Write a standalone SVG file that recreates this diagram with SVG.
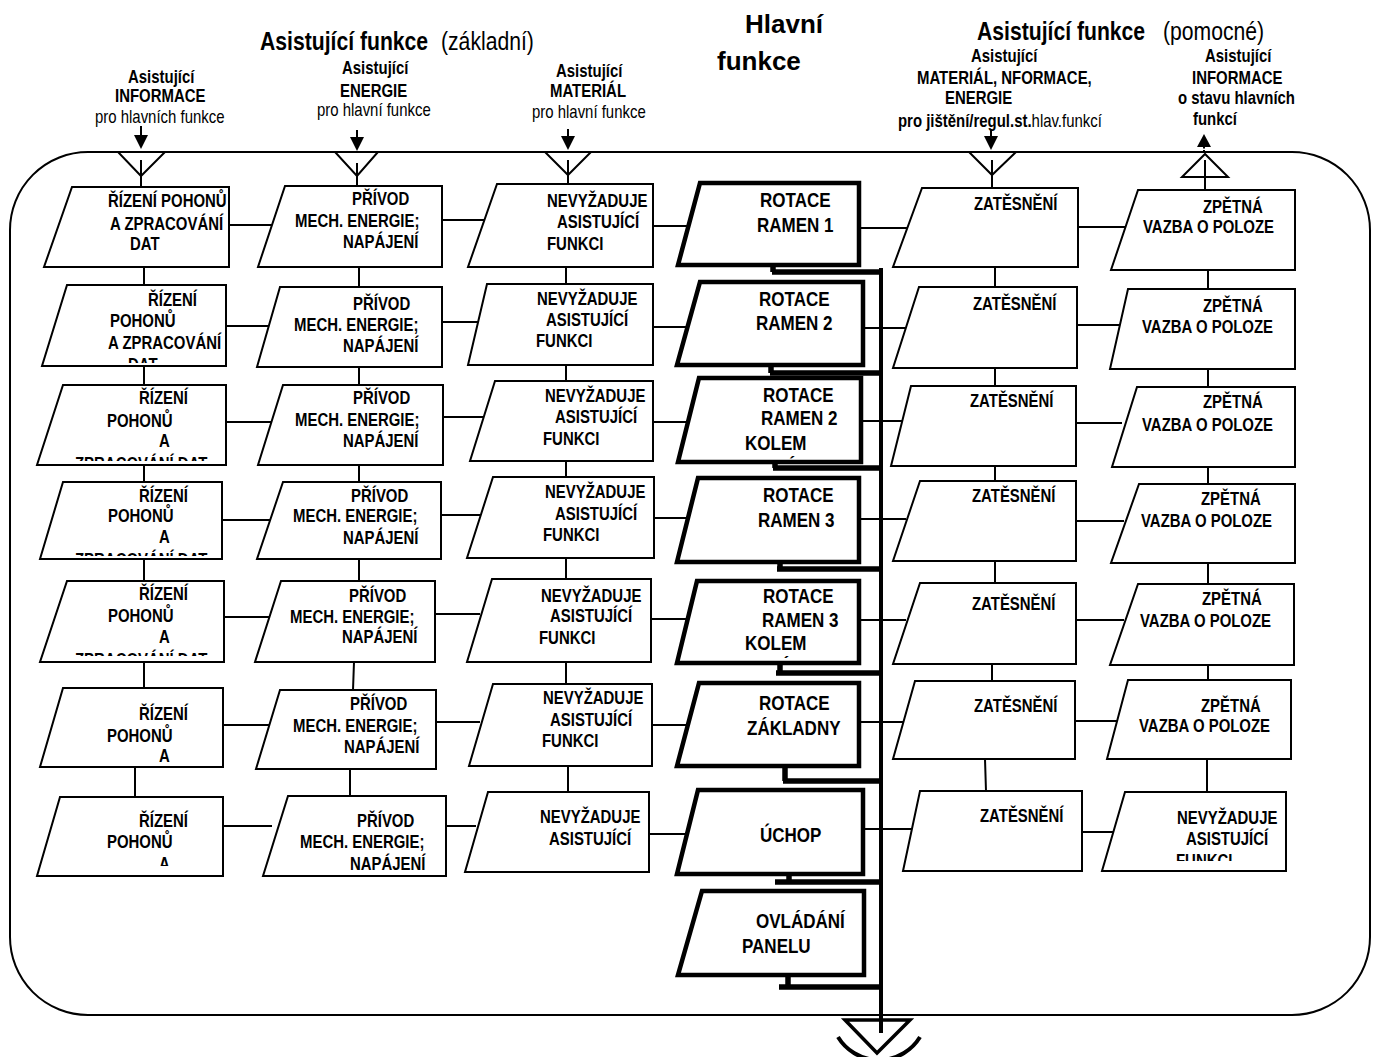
<svg xmlns="http://www.w3.org/2000/svg" width="1378" height="1057" viewBox="0 0 1378 1057">
<style>
text{font-family:"Liberation Sans",Arial,sans-serif;font-weight:bold;fill:#000}
.t{font-size:18px}
.m{font-size:20.5px}
.h{font-size:25.5px}
.hv{font-size:26px}
.r{font-weight:normal}
.a{fill:#fff;stroke:#000;stroke-width:2}
.mf{fill:#fff;stroke:#000;stroke-width:4.5}
.c{fill:none;stroke:#000;stroke-width:2}
.bus{fill:none;stroke:#000;stroke-width:4}
.stub{fill:none;stroke:#000;stroke-width:5.5}
</style>
<defs>
<clipPath id="k1"><rect x="30" y="280" width="220" height="83"/></clipPath>
<clipPath id="k2"><rect x="30" y="380" width="220" height="81"/></clipPath>
<clipPath id="k3"><rect x="30" y="478" width="220" height="78"/></clipPath>
<clipPath id="k4"><rect x="30" y="578" width="220" height="78"/></clipPath>
<clipPath id="k5"><rect x="30" y="790" width="220" height="76"/></clipPath>
<clipPath id="k6"><rect x="680" y="375" width="200" height="86"/></clipPath>
<clipPath id="k7"><rect x="680" y="578" width="200" height="80"/></clipPath>
<clipPath id="k8"><rect x="1100" y="788" width="200" height="73"/></clipPath>
</defs>

<rect x="10" y="152" width="1360" height="863" rx="78" ry="78" fill="none" stroke="#000" stroke-width="2"/>

<g id="headers">
<text class="h" transform="translate(260,50) scale(.83,1)">Asistující funkce</text>
<text class="h r" transform="translate(441,50) scale(.83,1)">(základní)</text>
<text class="hv" x="745" y="33">Hlavní</text>
<text class="hv" x="717" y="70">funkce</text>
<text class="h" transform="translate(977,40) scale(.83,1)">Asistující funkce</text>
<text class="h r" transform="translate(1163,40) scale(.83,1)">(pomocné)</text>
</g>

<g id="input-info">
<text class="t" transform="translate(128,83) scale(.83,1)">Asistující</text>
<text class="t" transform="translate(115,102) scale(.83,1)">INFORMACE</text>
<text class="t r" transform="translate(95,123) scale(.83,1)">pro hlavních funkce</text>
<path class="c" d="M141,126V136"/>
<polygon points="134,135 148,135 141,149" fill="#000"/>
<polygon points="118,152 165,152 141,176" fill="none" stroke="#000" stroke-width="2"/>
</g>
<g id="input-energy">
<text class="t" transform="translate(342,74) scale(.83,1)">Asistující</text>
<text class="t" transform="translate(340,97) scale(.83,1)">ENERGIE</text>
<text class="t r" transform="translate(317,116) scale(.83,1)">pro hlavní funkce</text>
<path class="c" d="M357,130V138"/>
<polygon points="350,137 364,137 357,151" fill="#000"/>
<polygon points="335,152 378,152 357,176" fill="none" stroke="#000" stroke-width="2"/>
</g>
<g id="input-material">
<text class="t" transform="translate(556,77) scale(.83,1)">Asistující</text>
<text class="t" transform="translate(550,97) scale(.83,1)">MATERIÁL</text>
<text class="t r" transform="translate(532,118) scale(.83,1)">pro hlavní funkce</text>
<path class="c" d="M568,129V137"/>
<polygon points="561,136 575,136 568,150" fill="#000"/>
<polygon points="545,152 591,152 568,175" fill="none" stroke="#000" stroke-width="2"/>
</g>
<g id="input-aux">
<text class="t" transform="translate(971,62) scale(.83,1)">Asistující</text>
<text class="t" transform="translate(917,84) scale(.83,1)">MATERIÁL, NFORMACE,</text>
<text class="t" transform="translate(945,104) scale(.83,1)">ENERGIE</text>
<text class="t" transform="translate(898,127) scale(.83,1)">pro jištění/regul.st.<tspan class="r">hlav.funkcí</tspan></text>
<path class="c" d="M991,129V137"/>
<polygon points="984,136 998,136 991,150" fill="#000"/>
<polygon points="969,152 1016,152 992,175" fill="none" stroke="#000" stroke-width="2"/>
</g>
<g id="output-info">
<text class="t" transform="translate(1205,62) scale(.83,1)">Asistující</text>
<text class="t" transform="translate(1192,84) scale(.83,1)">INFORMACE</text>
<text class="t" transform="translate(1178,104) scale(.83,1)">o stavu hlavních</text>
<text class="t" transform="translate(1193,125) scale(.83,1)">funkcí</text>
<polygon points="1197,147 1211,147 1204,134" fill="#000"/>
<path class="c" d="M1204,147V151" stroke-dasharray="1.5 1.5"/>
<polygon points="1182,177 1228,177 1205,154" fill="none" stroke="#000" stroke-width="2"/>
</g>

<g id="connectors">
<path class="c" d="M141,160V187 M357,163V186 M568,160V184 M992,160V188 M1205,160V190"/>
<path class="c" d="M144,267V285 M144,366V385 M144,465V482 M144,559V581 M144,662V688 M135,767V797
M359,267V287 M359,367V385 M359,465V482 M359,559V581 M354,662L353,690 M350,769V796
M566,267V284 M566,365V381 M566,461V477 M566,558V579 M566,662V684 M568,766V792
M995,267V287 M995,368V386 M995,466V481 M995,561V583 M992,664V681 M985,759L986,791
M1208,270V289 M1208,369V387 M1208,467V484 M1208,563V584 M1208,665V680 M1207,759V792"/>
<path class="c" d="M229,225H274 M442,220H486 M653,226H692 M859,228H908 M1078,227H1126
M226,326H272 M442,322H483 M653,327H692 M863,328H908 M1077,325H1120
M226,422H273 M438,417H484 M653,422H691 M861,421H906 M1077,423H1122
M222,520H272 M440,515H482 M654,518H690 M859,519H906 M1076,521H1124
M224,617H270 M435,614H480 M651,619H690 M859,620H906 M1076,620H1124
M223,725H272 M436,722H480 M652,725H692 M859,722H906 M1075,721H1124
M223,826H272 M446,826H476 M649,834H690 M863,829H912 M1082,832H1114"/>
<path class="bus" d="M881,268V1033"/>
<path class="stub" d="M773,263V272 M771,363V373 M775,460V468 M780,560V569 M780,661V673 M785,764V781 M789,868V882 M788,973V987"/>
<path class="stub" d="M772,272H883 M770,373H883 M773,468H883 M777,569H883 M776,673H883 M783,781H883 M775,882H883 M779,987H881"/>
</g>

<g id="output-main">
<polygon points="845,1020 910,1020 877,1053" fill="none" stroke="#000" stroke-width="3.5"/>
<path d="M838,1037 A48,48 0 0 0 920,1037" fill="none" stroke="#000" stroke-width="4"/>
</g>

<!-- column 1 -->
<g id="c1r1"><polygon class="a" points="72,187 229,187 229,267 44,267"/>
<text class="t" transform="translate(108,207) scale(.83,1)">ŘÍZENÍ POHONŮ</text>
<text class="t" transform="translate(110,230) scale(.83,1)">A ZPRACOVÁNÍ</text>
<text class="t" transform="translate(130,250) scale(.83,1)">DAT</text></g>
<g id="c1r2"><polygon class="a" points="67,285 226,285 226,366 42,366"/>
<text class="t" transform="translate(148,306) scale(.83,1)">ŘÍZENÍ</text>
<text class="t" transform="translate(110,327) scale(.83,1)">POHONŮ</text>
<text class="t" transform="translate(108,349) scale(.83,1)">A ZPRACOVÁNÍ</text>
<g clip-path="url(#k1)"><text class="t" transform="translate(128,371) scale(.83,1)">DAT</text></g></g>
<g id="c1r3"><polygon class="a" points="63,385 226,385 226,465 37,465"/>
<text class="t" transform="translate(139,404) scale(.83,1)">ŘÍZENÍ</text>
<text class="t" transform="translate(107,427) scale(.83,1)">POHONŮ</text>
<text class="t" transform="translate(159,447) scale(.83,1)">A</text>
<g clip-path="url(#k2)"><text class="t" transform="translate(75,470) scale(.83,1)">ZPRACOVÁNÍ DAT</text></g></g>
<g id="c1r4"><polygon class="a" points="63,482 222,482 222,559 40,559"/>
<text class="t" transform="translate(139,502) scale(.83,1)">ŘÍZENÍ</text>
<text class="t" transform="translate(108,522) scale(.83,1)">POHONŮ</text>
<text class="t" transform="translate(159,543) scale(.83,1)">A</text>
<g clip-path="url(#k3)"><text class="t" transform="translate(75,566) scale(.83,1)">ZPRACOVÁNÍ DAT</text></g></g>
<g id="c1r5"><polygon class="a" points="67,581 224,581 224,662 40,662"/>
<text class="t" transform="translate(139,600) scale(.83,1)">ŘÍZENÍ</text>
<text class="t" transform="translate(108,622) scale(.83,1)">POHONŮ</text>
<text class="t" transform="translate(159,643) scale(.83,1)">A</text>
<g clip-path="url(#k4)"><text class="t" transform="translate(75,666) scale(.83,1)">ZPRACOVÁNÍ DAT</text></g></g>
<g id="c1r6"><polygon class="a" points="63,688 223,688 223,767 40,767"/>
<text class="t" transform="translate(139,720) scale(.83,1)">ŘÍZENÍ</text>
<text class="t" transform="translate(107,742) scale(.83,1)">POHONŮ</text>
<text class="t" transform="translate(159,762) scale(.83,1)">A</text></g>
<g id="c1r7"><polygon class="a" points="60,797 223,797 223,876 37,876"/>
<text class="t" transform="translate(139,827) scale(.83,1)">ŘÍZENÍ</text>
<text class="t" transform="translate(107,848) scale(.83,1)">POHONŮ</text>
<g clip-path="url(#k5)"><text class="t" transform="translate(159,870) scale(.83,1)">A</text></g></g>

<!-- column 2 -->
<g id="c2r1"><polygon class="a" points="285,186 442,186 442,267 258,267"/>
<text class="t" transform="translate(352,205) scale(.83,1)">PŘÍVOD</text>
<text class="t" transform="translate(295,227) scale(.83,1)">MECH. ENERGIE;</text>
<text class="t" transform="translate(343,248) scale(.83,1)">NAPÁJENÍ</text></g>
<g id="c2r2"><polygon class="a" points="280,287 442,287 442,367 257,367"/>
<text class="t" transform="translate(353,310) scale(.83,1)">PŘÍVOD</text>
<text class="t" transform="translate(294,331) scale(.83,1)">MECH. ENERGIE;</text>
<text class="t" transform="translate(343,352) scale(.83,1)">NAPÁJENÍ</text></g>
<g id="c2r3"><polygon class="a" points="283,385 443,385 443,465 258,465"/>
<text class="t" transform="translate(353,404) scale(.83,1)">PŘÍVOD</text>
<text class="t" transform="translate(295,426) scale(.83,1)">MECH. ENERGIE;</text>
<text class="t" transform="translate(343,447) scale(.83,1)">NAPÁJENÍ</text></g>
<g id="c2r4"><polygon class="a" points="283,482 441,482 441,559 257,559"/>
<text class="t" transform="translate(351,502) scale(.83,1)">PŘÍVOD</text>
<text class="t" transform="translate(293,522) scale(.83,1)">MECH. ENERGIE;</text>
<text class="t" transform="translate(343,544) scale(.83,1)">NAPÁJENÍ</text></g>
<g id="c2r5"><polygon class="a" points="281,581 435,581 435,662 255,662"/>
<text class="t" transform="translate(349,602) scale(.83,1)">PŘÍVOD</text>
<text class="t" transform="translate(290,623) scale(.83,1)">MECH. ENERGIE;</text>
<text class="t" transform="translate(342,643) scale(.83,1)">NAPÁJENÍ</text></g>
<g id="c2r6"><polygon class="a" points="280,690 436,690 436,769 256,769"/>
<text class="t" transform="translate(350,710) scale(.83,1)">PŘÍVOD</text>
<text class="t" transform="translate(293,732) scale(.83,1)">MECH. ENERGIE;</text>
<text class="t" transform="translate(344,753) scale(.83,1)">NAPÁJENÍ</text></g>
<g id="c2r7"><polygon class="a" points="288,796 446,796 446,876 263,876"/>
<text class="t" transform="translate(357,827) scale(.83,1)">PŘÍVOD</text>
<text class="t" transform="translate(300,848) scale(.83,1)">MECH. ENERGIE;</text>
<text class="t" transform="translate(350,870) scale(.83,1)">NAPÁJENÍ</text></g>

<!-- column 3 -->
<g id="c3r1"><polygon class="a" points="497,184 653,184 653,267 468,267"/>
<text class="t" transform="translate(547,207) scale(.83,1)">NEVYŽADUJE</text>
<text class="t" transform="translate(557,228) scale(.83,1)">ASISTUJÍCÍ</text>
<text class="t" transform="translate(547,250) scale(.83,1)">FUNKCI</text></g>
<g id="c3r2"><polygon class="a" points="487,284 653,284 653,365 468,365"/>
<text class="t" transform="translate(537,305) scale(.83,1)">NEVYŽADUJE</text>
<text class="t" transform="translate(546,326) scale(.83,1)">ASISTUJÍCÍ</text>
<text class="t" transform="translate(536,347) scale(.83,1)">FUNKCI</text></g>
<g id="c3r3"><polygon class="a" points="495,381 653,381 653,461 470,461"/>
<text class="t" transform="translate(545,402) scale(.83,1)">NEVYŽADUJE</text>
<text class="t" transform="translate(555,423) scale(.83,1)">ASISTUJÍCÍ</text>
<text class="t" transform="translate(543,445) scale(.83,1)">FUNKCI</text></g>
<g id="c3r4"><polygon class="a" points="493,477 654,477 654,558 467,558"/>
<text class="t" transform="translate(545,498) scale(.83,1)">NEVYŽADUJE</text>
<text class="t" transform="translate(555,520) scale(.83,1)">ASISTUJÍCÍ</text>
<text class="t" transform="translate(543,541) scale(.83,1)">FUNKCI</text></g>
<g id="c3r5"><polygon class="a" points="492,579 651,579 651,662 467,662"/>
<text class="t" transform="translate(541,602) scale(.83,1)">NEVYŽADUJE</text>
<text class="t" transform="translate(550,622) scale(.83,1)">ASISTUJÍCÍ</text>
<text class="t" transform="translate(539,644) scale(.83,1)">FUNKCI</text></g>
<g id="c3r6"><polygon class="a" points="493,684 652,684 652,766 469,766"/>
<text class="t" transform="translate(543,704) scale(.83,1)">NEVYŽADUJE</text>
<text class="t" transform="translate(550,726) scale(.83,1)">ASISTUJÍCÍ</text>
<text class="t" transform="translate(542,747) scale(.83,1)">FUNKCI</text></g>
<g id="c3r7"><polygon class="a" points="488,792 649,792 649,872 465,872"/>
<text class="t" transform="translate(540,823) scale(.83,1)">NEVYŽADUJE</text>
<text class="t" transform="translate(549,845) scale(.83,1)">ASISTUJÍCÍ</text></g>

<!-- column 4: main functions -->
<g id="c4r1"><polygon class="mf" points="700,183 859,183 859,265 678,265"/>
<text class="m" transform="translate(760,207) scale(.83,1)">ROTACE</text>
<text class="m" transform="translate(757,232) scale(.83,1)">RAMEN 1</text></g>
<g id="c4r2"><polygon class="mf" points="700,282 863,282 863,365 677,365"/>
<text class="m" transform="translate(759,306) scale(.83,1)">ROTACE</text>
<text class="m" transform="translate(756,330) scale(.83,1)">RAMEN 2</text></g>
<g id="c4r3"><polygon class="mf" points="699,378 861,378 861,462 678,462"/>
<text class="m" transform="translate(763,402) scale(.83,1)">ROTACE</text>
<text class="m" transform="translate(761,425) scale(.83,1)">RAMEN 2</text>
<text class="m" transform="translate(745,450) scale(.83,1)">KOLEM</text>
<g clip-path="url(#k6)"><text class="m" transform="translate(763,474) scale(.83,1)">SVÉ OSY</text></g></g>
<g id="c4r4"><polygon class="mf" points="698,478 859,478 859,562 677,562"/>
<text class="m" transform="translate(763,502) scale(.83,1)">ROTACE</text>
<text class="m" transform="translate(758,527) scale(.83,1)">RAMEN 3</text></g>
<g id="c4r5"><polygon class="mf" points="697,581 859,581 859,663 677,663"/>
<text class="m" transform="translate(763,603) scale(.83,1)">ROTACE</text>
<text class="m" transform="translate(762,627) scale(.83,1)">RAMEN 3</text>
<text class="m" transform="translate(745,650) scale(.83,1)">KOLEM</text>
<g clip-path="url(#k7)"><text class="m" transform="translate(757,674) scale(.83,1)">SVÉ OSY</text></g></g>
<g id="c4r6"><polygon class="mf" points="699,683 859,683 859,766 677,766"/>
<text class="m" transform="translate(759,710) scale(.83,1)">ROTACE</text>
<text class="m" transform="translate(747,735) scale(.83,1)">ZÁKLADNY</text></g>
<g id="c4r7"><polygon class="mf" points="698,790 863,790 863,874 677,874"/>
<text class="m" transform="translate(760,842) scale(.83,1)">ÚCHOP</text></g>
<g id="c4r8"><polygon class="mf" points="702,891 864,891 864,975 678,975"/>
<text class="m" transform="translate(756,928) scale(.83,1)">OVLÁDÁNÍ</text>
<text class="m" transform="translate(742,953) scale(.83,1)">PANELU</text></g>

<!-- column 5 -->
<g id="c5r1"><polygon class="a" points="922,188 1078,188 1078,267 893,267"/>
<text class="t" transform="translate(974,210) scale(.83,1)">ZATĚSNĚNÍ</text></g>
<g id="c5r2"><polygon class="a" points="919,287 1077,287 1077,368 893,368"/>
<text class="t" transform="translate(973,310) scale(.83,1)">ZATĚSNĚNÍ</text></g>
<g id="c5r3"><polygon class="a" points="911,386 1076,386 1076,466 891,466"/>
<text class="t" transform="translate(970,407) scale(.83,1)">ZATĚSNĚNÍ</text></g>
<g id="c5r4"><polygon class="a" points="920,481 1076,481 1076,561 893,561"/>
<text class="t" transform="translate(972,502) scale(.83,1)">ZATĚSNĚNÍ</text></g>
<g id="c5r5"><polygon class="a" points="920,583 1076,583 1076,664 893,664"/>
<text class="t" transform="translate(972,610) scale(.83,1)">ZATĚSNĚNÍ</text></g>
<g id="c5r6"><polygon class="a" points="915,681 1075,681 1075,759 893,759"/>
<text class="t" transform="translate(974,712) scale(.83,1)">ZATĚSNĚNÍ</text></g>
<g id="c5r7"><polygon class="a" points="920,791 1082,791 1082,871 903,871"/>
<text class="t" transform="translate(980,822) scale(.83,1)">ZATĚSNĚNÍ</text></g>

<!-- column 6 -->
<g id="c6r1"><polygon class="a" points="1138,190 1295,190 1295,270 1111,270"/>
<text class="t" transform="translate(1203,213) scale(.83,1)">ZPĚTNÁ</text>
<text class="t" transform="translate(1143,233) scale(.83,1)">VAZBA O POLOZE</text></g>
<g id="c6r2"><polygon class="a" points="1128,289 1295,289 1295,369 1110,369"/>
<text class="t" transform="translate(1203,312) scale(.83,1)">ZPĚTNÁ</text>
<text class="t" transform="translate(1142,333) scale(.83,1)">VAZBA O POLOZE</text></g>
<g id="c6r3"><polygon class="a" points="1137,387 1295,387 1295,467 1112,467"/>
<text class="t" transform="translate(1203,408) scale(.83,1)">ZPĚTNÁ</text>
<text class="t" transform="translate(1142,431) scale(.83,1)">VAZBA O POLOZE</text></g>
<g id="c6r4"><polygon class="a" points="1139,484 1295,484 1295,563 1111,563"/>
<text class="t" transform="translate(1201,505) scale(.83,1)">ZPĚTNÁ</text>
<text class="t" transform="translate(1141,527) scale(.83,1)">VAZBA O POLOZE</text></g>
<g id="c6r5"><polygon class="a" points="1138,584 1294,584 1294,665 1110,665"/>
<text class="t" transform="translate(1202,605) scale(.83,1)">ZPĚTNÁ</text>
<text class="t" transform="translate(1140,627) scale(.83,1)">VAZBA O POLOZE</text></g>
<g id="c6r6"><polygon class="a" points="1128,680 1291,680 1291,759 1107,759"/>
<text class="t" transform="translate(1201,712) scale(.83,1)">ZPĚTNÁ</text>
<text class="t" transform="translate(1139,732) scale(.83,1)">VAZBA O POLOZE</text></g>
<g id="c6r7"><polygon class="a" points="1125,792 1286,792 1286,871 1102,871"/>
<text class="t" transform="translate(1177,824) scale(.83,1)">NEVYŽADUJE</text>
<text class="t" transform="translate(1186,845) scale(.83,1)">ASISTUJÍCÍ</text>
<g clip-path="url(#k8)"><text class="t" transform="translate(1176,867) scale(.83,1)">FUNKCI</text></g></g>
</svg>
